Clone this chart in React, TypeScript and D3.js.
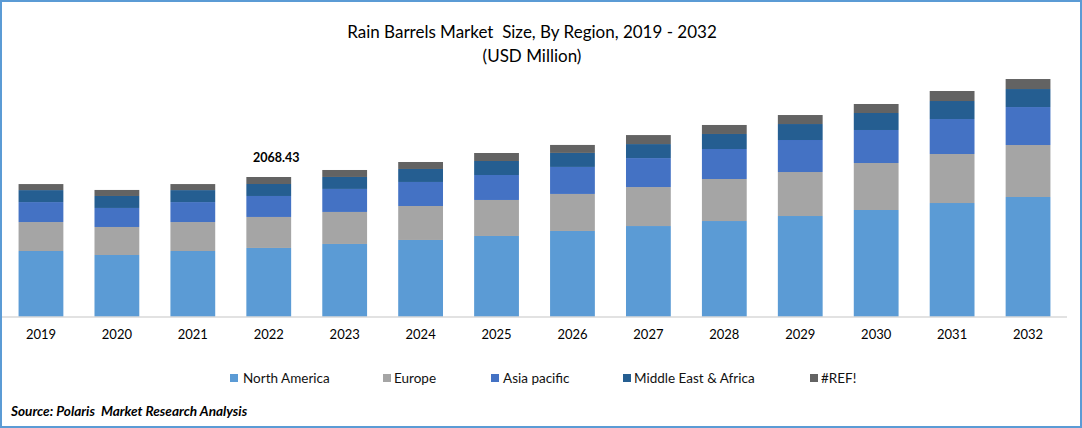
import { useEffect, useRef } from 'react'
import * as d3 from 'd3'

const years = ['2019', '2020', '2021', '2022', '2023', '2024', '2025', '2026', '2027', '2028', '2029', '2030', '2031', '2032']
const northAmerica = [975, 916, 975, 1020, 1079, 1138, 1197, 1271, 1344, 1418, 1492, 1581, 1684, 1773]
const europe = [428, 414, 428, 458, 473, 502, 532, 547, 576, 621, 650, 694, 724, 768]
const asiaPacific = [295, 281, 295, 310, 340, 355, 369, 399, 428, 443, 473, 488, 517, 561]
const middleEast = [177, 177, 177, 177, 177, 192, 207, 207, 207, 222, 236, 251, 266, 266]
const ref2 = [89, 89, 89, 103.43, 103, 103, 118, 118, 133, 133, 133, 133, 148, 148]

const seriesNames = ['North America', 'Europe', 'Asia pacific', 'Middle East & Africa', '#REF!']
const seriesValues = [northAmerica, europe, asiaPacific, middleEast, ref2]
const colors = ['#5b9bd5', '#a5a5a5', '#4472c4', '#255e91', '#636363']
const legendX = [230, 383, 491, 623, 810]
const legendGap = [13, 11, 12, 11, 11]

const labelYear = '2022'
const labelValue = '2068.43'

const W = 1082
const H = 428
const font = 'Lato, Carlito, sans-serif'

export default function App() {
  const ref = useRef<SVGSVGElement | null>(null)
  useEffect(() => {
    const svg = d3.select(ref.current)
    svg.selectAll('*').remove()

    const rows = years.map((year, i) => {
      const row: Record<string, any> = { year }
      seriesNames.forEach((n, s) => (row[n] = seriesValues[s][i]))
      return row
    })
    const stacked = d3.stack<any>().keys(seriesNames)(rows)

    const x = d3.scaleBand<string>().domain(years).range([3, 1066]).paddingInner(0.41).paddingOuter(0.205)
    const y = d3.scaleLinear().domain([0, 4000]).range([317, 46.26])

    svg.append('rect').attr('x', 1).attr('y', 1).attr('width', W - 2).attr('height', H - 2)
      .attr('fill', '#fff').attr('stroke', '#5b9bd5').attr('stroke-width', 2)

    const title = svg.append('g').attr('font-family', font).attr('text-anchor', 'middle').attr('fill', '#000').attr('font-size', 17)
    title.append('text').attr('x', 532).attr('y', 38).style('white-space', 'pre').text('Rain Barrels Market  Size, By Region, 2019 - 2032')
    title.append('text').attr('x', 532).attr('y', 62).text('(USD Million)')

    stacked.forEach((layer, s) => {
      svg.append('g').attr('fill', colors[s])
        .selectAll('rect')
        .data(layer)
        .enter()
        .append('rect')
        .attr('x', (d: any) => x(d.data.year) as number)
        .attr('width', x.bandwidth())
        .attr('y', (d: any) => y(d[1]))
        .attr('height', (d: any) => y(d[0]) - y(d[1]))
    })

    const axis = svg.append('g').attr('transform', 'translate(0,317)')
      .call(d3.axisBottom(x).tickSize(0).tickPadding(13) as any)
    axis.select('.domain').attr('d', 'M2,0H1067').attr('stroke', '#d9d9d9').attr('stroke-width', 1.5)
    axis.selectAll('.tick text').attr('font-family', font).attr('font-size', 13).attr('fill', '#000')

    const total = d3.sum(seriesValues, (v) => v[years.indexOf(labelYear)])
    svg.append('text')
      .attr('x', (x(labelYear) as number) + x.bandwidth() / 2 + 7.5)
      .attr('y', y(total) - 15)
      .attr('text-anchor', 'middle')
      .attr('font-family', font).attr('font-weight', 700).attr('font-size', 12.5).attr('fill', '#000')
      .text(labelValue)

    const legend = svg.append('g').attr('font-family', font).attr('font-size', 13.5).attr('fill', '#111')
    seriesNames.forEach((n, i) => {
      legend.append('rect').attr('x', legendX[i]).attr('y', 374).attr('width', 8).attr('height', 8).attr('fill', colors[i])
      legend.append('text').attr('x', legendX[i] + legendGap[i]).attr('y', 383).text(n)
    })

    svg.append('text').attr('x', 11).attr('y', 415.5)
      .attr('font-family', font).attr('font-weight', 700).attr('font-style', 'italic').attr('font-size', 13.6).attr('fill', '#000')
      .style('white-space', 'pre')
      .text('Source: Polaris  Market Research Analysis')
  }, [])
  return <svg ref={ref} width={W} height={H} style={{ position: 'absolute', left: 0, top: 0, display: 'block' }} />
}
